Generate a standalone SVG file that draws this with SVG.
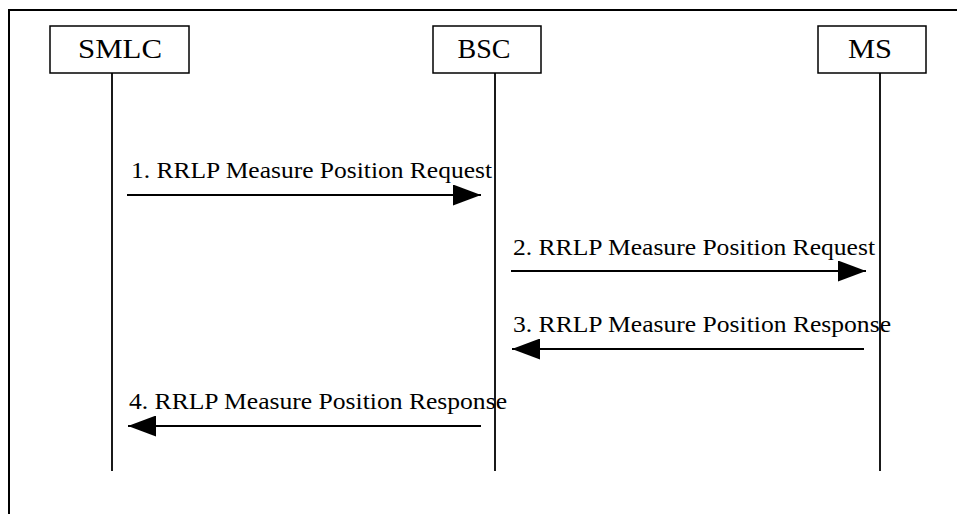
<svg xmlns="http://www.w3.org/2000/svg" width="957" height="514" viewBox="0 0 957 514">
<style>
.box{fill:#fff;stroke:#000;stroke-width:1.5}
.life{stroke:#000;stroke-width:1.8;fill:none}
.msg{stroke:#000;stroke-width:1.8;fill:none}
.t{font-family:"Liberation Serif","Times New Roman",serif;font-size:24px;fill:#000}
.n{font-family:"Liberation Serif","Times New Roman",serif;font-size:28px;fill:#000;text-anchor:middle}
</style>
<defs>
<marker id="ah" markerWidth="28" markerHeight="21" refX="28" refY="10.5" markerUnits="userSpaceOnUse" orient="auto">
<path d="M0,0 L28,10.5 L0,21 Z" fill="#000"/>
</marker>
</defs>
<rect x="0" y="0" width="957" height="514" fill="#fff"/>
<path d="M9,514 V10 H957" fill="none" stroke="#000" stroke-width="2"/>
<g id="smlc">
<rect class="box" x="50" y="26" width="139" height="47"/>
<text class="n" x="120" y="58" textLength="84" lengthAdjust="spacingAndGlyphs">SMLC</text>
<line class="life" x1="112" y1="73" x2="112" y2="471"/>
</g>
<g id="bsc">
<rect class="box" x="433" y="26" width="108" height="47"/>
<text class="n" x="484" y="58" textLength="53" lengthAdjust="spacingAndGlyphs">BSC</text>
<line class="life" x1="495" y1="73" x2="495" y2="471"/>
</g>
<g id="ms">
<rect class="box" x="818" y="26" width="108" height="47"/>
<text class="n" x="870" y="58" textLength="44" lengthAdjust="spacingAndGlyphs">MS</text>
<line class="life" x1="880" y1="73" x2="880" y2="471"/>
</g>
<g id="connectors">
<line class="msg" x1="127" y1="195" x2="481" y2="195" marker-end="url(#ah)"/>
<text class="t" x="131" y="178" textLength="361" lengthAdjust="spacingAndGlyphs">1. RRLP Measure Position Request</text>
<line class="msg" x1="511" y1="271" x2="866" y2="271" marker-end="url(#ah)"/>
<text class="t" x="513" y="255" textLength="362" lengthAdjust="spacingAndGlyphs">2. RRLP Measure Position Request</text>
<line class="msg" x1="864" y1="349" x2="512" y2="349" marker-end="url(#ah)"/>
<text class="t" x="513" y="332" textLength="378" lengthAdjust="spacingAndGlyphs">3. RRLP Measure Position Response</text>
<line class="msg" x1="481" y1="426" x2="128" y2="426" marker-end="url(#ah)"/>
<text class="t" x="129" y="409" textLength="378" lengthAdjust="spacingAndGlyphs">4. RRLP Measure Position Response</text>
</g>
</svg>
